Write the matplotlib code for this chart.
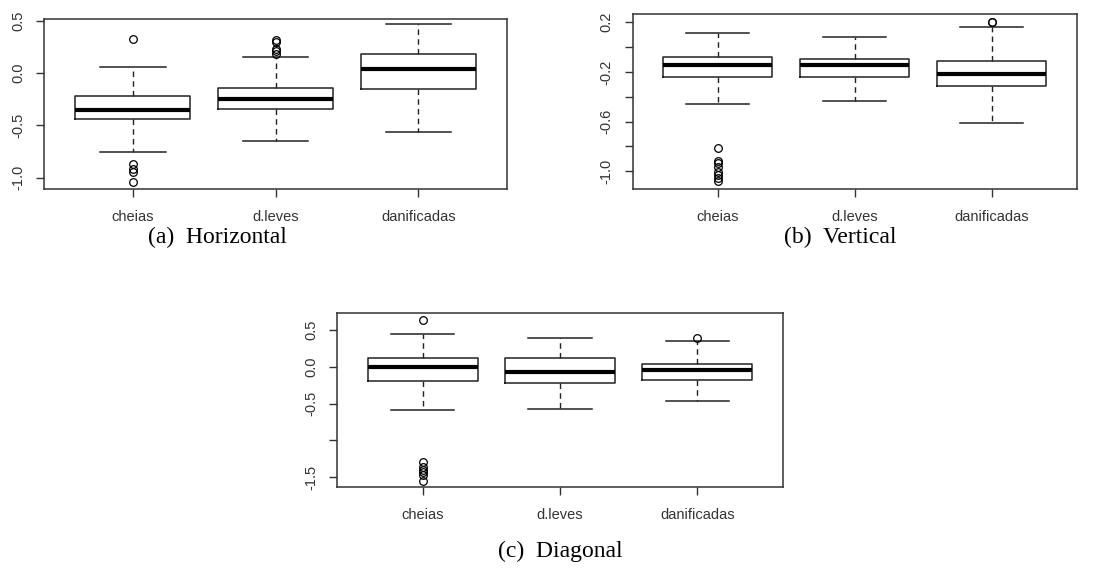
import matplotlib.pyplot as plt

categories = ["cheias", "d.leves", "danificadas"]

# (a) Horizontal
h_whislo = [-0.76, -0.65, -0.56]
h_q1 = [-0.436, -0.346, -0.147]
h_med = [-0.35, -0.243, 0.045]
h_q3 = [-0.218, -0.14, 0.186]
h_whishi = [0.06, 0.16, 0.47]
h_fliers = [[0.333, -0.875, -0.917, -0.943, -1.045],
            [0.32, 0.295, 0.23, 0.21, 0.183],
            []]

# (b) Vertical
v_whislo = [-0.455, -0.431, -0.608]
v_q1 = [-0.238, -0.238, -0.313]
v_med = [-0.144, -0.144, -0.213]
v_q3 = [-0.079, -0.093, -0.109]
v_whishi = [0.116, 0.082, 0.165]
v_fliers = [[-0.814, -0.914, -0.935, -0.967, -1.003, -1.029, -1.056, -1.075],
            [],
            [0.2, 0.205]]

# (c) Diagonal
d_whislo = [-0.587, -0.57, -0.47]
d_q1 = [-0.194, -0.214, -0.18]
d_med = [-0.009, -0.073, -0.046]
d_q3 = [0.126, 0.126, 0.036]
d_whishi = [0.446, 0.395, 0.355]
d_fliers = [[0.632, -1.295, -1.363, -1.40, -1.43, -1.467, -1.545],
            [],
            [0.395]]

captions = ["(a)  Horizontal", "(b)  Vertical", "(c)  Diagonal"]


def make_stats(lo, q1, med, q3, hi, fl):
    stats = []
    for i in range(len(categories)):
        stats.append(dict(whislo=lo[i], q1=q1[i], med=med[i], q3=q3[i],
                          whishi=hi[i], fliers=fl[i], label=categories[i]))
    return stats


def draw_box(ax, stats, ylim, yticks, ylabels):
    ax.bxp(stats, positions=[1, 2, 3], widths=0.8, showfliers=True,
           boxprops=dict(color="#222222", linewidth=1.1),
           medianprops=dict(color="black", linewidth=3),
           whiskerprops=dict(color="#222222", linewidth=1, linestyle=(0, (4, 3))),
           capprops=dict(color="#222222", linewidth=1.1),
           capwidths=0.46,
           flierprops=dict(marker="o", markersize=5.5, markerfacecolor="none",
                           markeredgecolor="black", markeredgewidth=0.9))
    ax.set_xlim(0.38, 3.62)
    ax.set_ylim(*ylim)
    ax.set_xticks([1, 2, 3])
    ax.set_xticklabels(categories)
    ax.set_yticks(yticks)
    ax.set_yticklabels(ylabels)
    ax.tick_params(axis="both", length=5.8, width=1, color="#333333",
                   labelsize=10.5, labelcolor="#333333", direction="out")
    ax.tick_params(axis="x", pad=9)
    ax.tick_params(axis="y", pad=8, labelrotation=90)
    for lab in ax.get_yticklabels():
        lab.set_va("center")
    for sp in ax.spines.values():
        sp.set_color("#333333")
        sp.set_linewidth(1.1)


plt.rcParams["font.family"] = ["Liberation Sans", "DejaVu Sans"]

fig = plt.figure(figsize=(11.18, 5.76), dpi=100)

ax_a = fig.add_axes([0.0394, 0.6719, 0.4141, 0.2951])
draw_box(ax_a, make_stats(h_whislo, h_q1, h_med, h_q3, h_whishi, h_fliers),
         (-1.11, 0.52), [0.5, 0.0, -0.5, -1.0], ["0.5", "0.0", "-0.5", "-1.0"])

ax_b = fig.add_axes([0.5659, 0.6714, 0.3971, 0.3038])
draw_box(ax_b, make_stats(v_whislo, v_q1, v_med, v_q3, v_whishi, v_fliers),
         (-1.145, 0.264), [0.2, 0.0, -0.2, -0.4, -0.6, -0.8, -1.0],
         ["0.2", "", "-0.2", "", "-0.6", "", "-1.0"])

ax_c = fig.add_axes([0.3017, 0.154, 0.3984, 0.3021])
draw_box(ax_c, make_stats(d_whislo, d_q1, d_med, d_q3, d_whishi, d_fliers),
         (-1.636, 0.727), [0.5, 0.0, -0.5, -1.0, -1.5],
         ["0.5", "0.0", "-0.5", "", "-1.5"])

cap_font = dict(family=["Liberation Serif", "DejaVu Serif"], fontsize=17,
                ha="center", va="center")
fig.text(217 / 1118, 1 - 237 / 576, captions[0], **cap_font)
fig.text(840 / 1118, 1 - 237 / 576, captions[1], **cap_font)
fig.text(560 / 1118, 1 - 551 / 576, captions[2], **cap_font)

fig.savefig("out.png", dpi=100)
